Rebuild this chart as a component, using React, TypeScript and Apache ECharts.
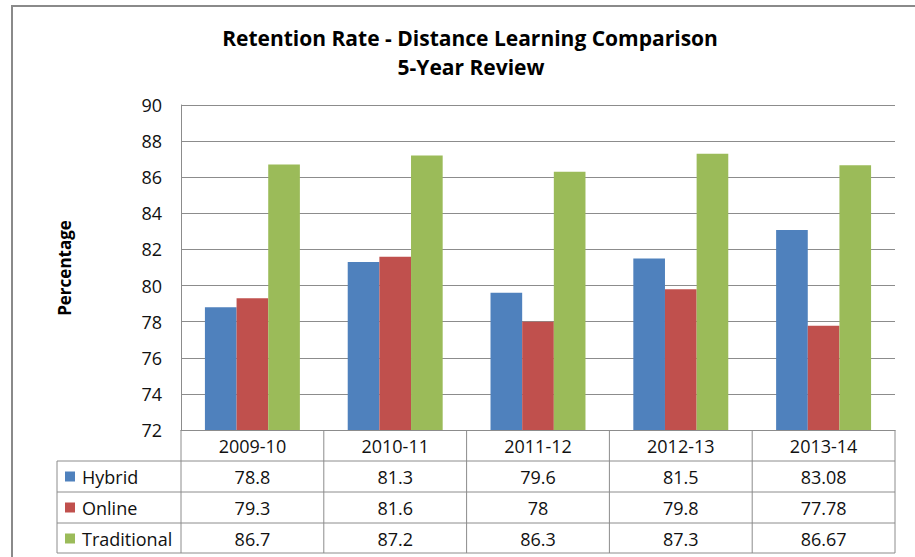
import React, { useEffect, useRef } from "react";
import * as echarts from "echarts";

const categories = ["2009-10", "2010-11", "2011-12", "2012-13", "2013-14"];
const seriesNames = ["Hybrid", "Online", "Traditional"];
const hybrid = [78.8, 81.3, 79.6, 81.5, 83.08];
const online = [79.3, 81.6, 78, 79.8, 77.78];
const traditional = [86.7, 87.2, 86.3, 87.3, 86.67];
const colors = ["#4F81BD", "#C0504D", "#9BBB59"];
const yMin = 72;
const yMax = 90;
const yStep = 2;

const FONT = "Open Sans";

export default function App() {
  const ref = useRef<HTMLDivElement>(null);
  useEffect(() => {
    if (!ref.current) return;
    const chart = echarts.init(ref.current, null, { renderer: "svg" });
    const values = [hybrid, online, traditional];

    const gridLeft = 181;
    const gridRight = 895;
    const gridTop = 105;
    const gridBottom = 430;
    const rowH = 31;
    const legendLeft = 57;
    const colW = (gridRight - gridLeft) / categories.length;
    const lineColor = "#8c8c8c";
    const tableFont = 18;

    const graphics: any[] = [];
    graphics.push({
      type: "rect",
      shape: { x: 12, y: 6, width: 1000, height: 1000 },
      style: { fill: "none", stroke: "#8a8a8a", lineWidth: 2 },
      silent: true,
    });
    graphics.push({
      type: "text",
      x: 470,
      y: 38,
      style: {
        text: "Retention Rate - Distance Learning Comparison",
        font: `bold 21px "${FONT}"`,
        fill: "#000",
        align: "center",
        verticalAlign: "middle",
      },
    });
    graphics.push({
      type: "text",
      x: 471,
      y: 67,
      style: {
        text: "5-Year Review",
        font: `bold 21px "${FONT}"`,
        fill: "#000",
        align: "center",
        verticalAlign: "middle",
      },
    });
    graphics.push({
      type: "text",
      x: 64,
      y: 268,
      rotation: Math.PI / 2,
      style: {
        text: "Percentage",
        font: `bold 17px "${FONT}"`,
        fill: "#000",
        align: "center",
        verticalAlign: "middle",
      },
    });
    for (let r = 1; r <= seriesNames.length + 1; r++) {
      const y = gridBottom + r * rowH - (r === seriesNames.length + 1 ? 1 : 0);
      graphics.push({
        type: "line",
        shape: { x1: legendLeft, y1: y, x2: gridRight, y2: y },
        style: { stroke: lineColor, lineWidth: 1 },
        silent: true,
      });
    }
    const tableBottom = gridBottom + (seriesNames.length + 1) * rowH - 1;
    graphics.push({
      type: "line",
      shape: { x1: legendLeft, y1: gridBottom + rowH, x2: legendLeft, y2: tableBottom },
      style: { stroke: lineColor, lineWidth: 1 },
      silent: true,
    });
    for (let c = 0; c <= categories.length; c++) {
      const x = gridLeft + c * colW;
      graphics.push({
        type: "line",
        shape: { x1: x, y1: gridBottom, x2: x, y2: tableBottom },
        style: { stroke: lineColor, lineWidth: 1 },
        silent: true,
      });
    }
    seriesNames.forEach((name, i) => {
      const cy = gridBottom + (i + 1) * rowH + rowH / 2;
      graphics.push({
        type: "rect",
        shape: { x: 65, y: cy - 5, width: 10, height: 10 },
        style: { fill: colors[i] },
      });
      graphics.push({
        type: "text",
        x: 82,
        y: cy,
        style: {
          text: name,
          font: `${tableFont}px "${FONT}"`,
          fill: "#111",
          align: "left",
          verticalAlign: "middle",
        },
      });
    });

    const tableAxes = values.map((vals, i) => ({
      type: "category",
      data: categories,
      gridIndex: 0,
      position: "bottom",
      offset: (i + 1) * rowH,
      axisLine: { show: false },
      axisTick: { show: false },
      splitLine: { show: false },
      axisLabel: {
        interval: 0,
        margin: 0,
        lineHeight: rowH,
        fontSize: tableFont,
        fontFamily: FONT,
        color: "#111",
        formatter: (_v: string, idx: number) => String(vals[idx]),
      },
    }));

    chart.setOption({
      animation: false,
      backgroundColor: "#ffffff",
      grid: {
        left: gridLeft,
        top: gridTop,
        width: gridRight - gridLeft,
        height: gridBottom - gridTop,
        containLabel: false,
      },
      xAxis: [
        {
          type: "category",
          data: categories,
          axisLine: { show: true, lineStyle: { color: lineColor, width: 1 } },
          axisTick: { show: false },
          axisLabel: {
            interval: 0,
            margin: 0,
            lineHeight: rowH,
            fontSize: tableFont,
            fontFamily: FONT,
            color: "#111",
          },
        },
        ...tableAxes,
      ],
      yAxis: {
        type: "value",
        min: yMin,
        max: yMax,
        interval: yStep,
        axisLine: { show: true, lineStyle: { color: lineColor } },
        axisTick: { show: false },
        splitLine: { lineStyle: { color: lineColor, width: 1 } },
        axisLabel: {
          margin: 19,
          fontSize: 18,
          fontFamily: FONT,
          color: "#111",
        },
      },
      series: values.map((vals, i) => ({
        name: seriesNames[i],
        type: "bar",
        xAxisIndex: 0,
        data: vals,
        barGap: "0%",
        barCategoryGap: "33.5%",
        itemStyle: { color: colors[i] },
      })),
      graphic: graphics,
    });
    return () => chart.dispose();
  }, []);
  return (
    <div
      ref={ref}
      style={{ position: "absolute", left: 0, top: 0, width: 915, height: 557, background: "#fff" }}
    />
  );
}
